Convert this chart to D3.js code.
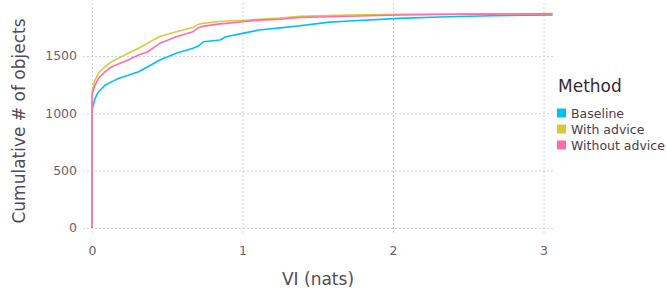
<!DOCTYPE html>
<html>
<head>
<meta charset="utf-8">
<script src="https://cdn.jsdelivr.net/npm/d3@7"></script>
<style>
  body { margin: 0; background: #fff; }
  svg { font-family: "DejaVu Sans", sans-serif; }
</style>
</head>
<body>
<div id="chart"></div>
<script>
// data
let methods = ["Baseline", "With advice", "Without advice"];
let colors  = ["#00BFFF", "#D4CA3A", "#FF6DAE"];

let vi = [0, 0, 0.002, 0.02, 0.042, 0.086, 0.13, 0.175, 0.24, 0.31, 0.37, 0.45,
          0.56, 0.67, 0.71, 0.74, 0.85, 0.89, 1.0, 1.11, 1.25, 1.38, 1.58, 1.71,
          2.04, 2.31, 2.65, 3.06];

let baseline = [0, 1020, 1040, 1128, 1186, 1245, 1274, 1303, 1332, 1362, 1406, 1465,
                1523, 1567, 1590, 1624, 1639, 1668, 1697, 1726, 1745, 1764, 1795, 1805,
                1828, 1840, 1851, 1858];
let withAdvice = [0, 1110, 1203, 1290, 1349, 1406, 1450, 1479, 1523, 1567, 1612, 1670,
                  1711, 1749, 1778, 1785, 1800, 1805, 1810, 1820, 1830, 1845, 1852, 1857,
                  1863, 1866, 1868, 1869];
let withoutAdvice = [0, 1080, 1174, 1245, 1303, 1362, 1406, 1430, 1465, 1508, 1537, 1610,
                     1668, 1711, 1749, 1760, 1780, 1784, 1799, 1813, 1820, 1835, 1842, 1847,
                     1857, 1862, 1865, 1867];

let xTicks = [0, 1, 2, 3];
let yTicks = [0, 500, 1000, 1500];

let width = 667, height = 289;
let plot = { left: 83, right: 553, top: 3, bottom: 233 };

let svg = d3.select("#chart")
  .append("svg")
    .attr("width", width)
    .attr("height", height);

let x = d3.scaleLinear()
    .domain([-0.06, 3.063])
    .range([plot.left, plot.right]);

let y = d3.scaleLinear()
    .domain([-44, 1962])
    .range([plot.bottom, plot.top]);

// grid + ticks
let gy = svg.append("g")
    .attr("transform", "translate(" + plot.left + ",0)")
    .call(d3.axisLeft(y)
      .tickValues(yTicks)
      .tickSize(-(plot.right - plot.left))
      .tickPadding(6)
      .tickFormat(d3.format("d")));

let gx = svg.append("g")
    .attr("transform", "translate(0," + plot.bottom + ")")
    .call(d3.axisBottom(x)
      .tickValues(xTicks)
      .tickSize(-(plot.bottom - plot.top))
      .tickPadding(13)
      .tickFormat(d3.format("d")));

[gx, gy].forEach(function(g) {
  g.select(".domain").remove();
  g.selectAll(".tick line")
    .attr("stroke", "#D0D0E0")
    .attr("stroke-width", 1)
    .attr("stroke-dasharray", "2,2");
  g.selectAll(".tick text")
    .attr("fill", "#6c606b")
    .style("font-size", "12.5px")
    .style("font-family", "DejaVu Sans, sans-serif");
});

// curves
let series = [baseline, withAdvice, withoutAdvice].map(function(vals, i) {
  return { id: methods[i], color: colors[i],
           values: vals.map(function(v, j) { return { vi: vi[j], n: v }; }) };
});

let line = d3.line()
    .x(function(d) { return x(d.vi); })
    .y(function(d) { return y(d.n); });

svg.selectAll(".curve")
  .data(series)
  .enter()
  .append("path")
    .attr("class", "curve")
    .attr("d", function(d) { return line(d.values); })
    .attr("fill", "none")
    .attr("stroke", function(d) { return d.color; })
    .attr("stroke-width", 1.6)
    .attr("stroke-linejoin", "round");

// axis titles
svg.append("text")
    .attr("x", (plot.left + plot.right) / 2)
    .attr("y", 285)
    .attr("text-anchor", "middle")
    .attr("fill", "#564a55")
    .style("font-size", "17px")
    .text("VI (nats)");

svg.append("text")
    .attr("transform", "translate(25," + ((plot.top + plot.bottom) / 2 + 3) + ") rotate(-90)")
    .attr("text-anchor", "middle")
    .attr("fill", "#564a55")
    .style("font-size", "17px")
    .text("Cumulative # of objects");

// legend
let legend = svg.append("g").attr("transform", "translate(557,0)");

legend.append("text")
    .attr("x", 1)
    .attr("y", 92)
    .attr("fill", "#362a35")
    .style("font-size", "17px")
    .text("Method");

let items = legend.selectAll(".item")
  .data(series)
  .enter()
  .append("g")
    .attr("class", "item")
    .attr("transform", function(d, i) { return "translate(0," + (108.5 + i * 16) + ")"; });

items.append("rect")
    .attr("width", 9)
    .attr("height", 9)
    .attr("fill", function(d) { return d.color; });

items.append("text")
    .attr("x", 14)
    .attr("y", 9)
    .attr("fill", "#4c404b")
    .style("font-size", "12.5px")
    .text(function(d) { return d.id; });
</script>
</body>
</html>
